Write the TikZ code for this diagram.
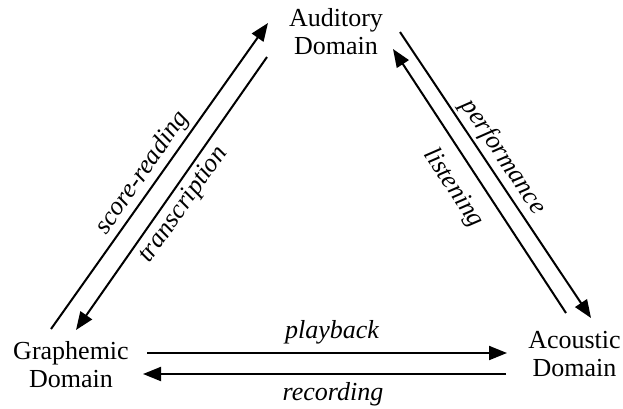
\documentclass[tikz,border=0pt]{standalone}
\usepackage{fontspec}
\setmainfont{Liberation Serif}
\usetikzlibrary{arrows.meta}
\begin{document}
\begin{tikzpicture}[x=1pt,y=-1pt,
  dombox/.style={align=center,inner sep=0pt,anchor=base,font=\fontsize{26}{27.5}\selectfont},
  lbl/.style={inner sep=0pt,font=\fontsize{26}{28}\selectfont\itshape},
  conn/.style={line width=2pt,-{Triangle[length=18pt,width=14pt]}}]
\useasboundingbox (0,0) rectangle (623,408);
\node[dombox] (aud) at (336,54) {Auditory\\Domain};
\node[dombox] (gra) at (71,387) {Graphemic\\Domain};
\node[dombox] (aco) at (574.5,376) {Acoustic\\Domain};
% connector ends
\coordinate (sr1) at (51,329);  \coordinate (sr2) at (268,23);
\coordinate (tr1) at (267,57);  \coordinate (tr2) at (76,330);
\coordinate (pe1) at (400,32);  \coordinate (pe2) at (591,318);
\coordinate (li1) at (566,313); \coordinate (li2) at (393,49);
\coordinate (pb1) at (147,353); \coordinate (pb2) at (507,353);
\coordinate (re1) at (506,374); \coordinate (re2) at (143,374);
\draw[conn] (sr1) -- (sr2);
\draw[conn] (tr1) -- (tr2);
\draw[conn] (pe1) -- (pe2);
\draw[conn] (li1) -- (li2);
\draw[conn] (pb1) -- (pb2);
\draw[conn] (re1) -- (re2);
\node[lbl,rotate=55] (lsr) at (142.5,173) {score-reading};
\node[lbl,rotate=55] (ltr) at (184,205) {transcription};
\node[lbl,rotate=-56.3] (lpe) at (503,157) {performance};
\node[lbl,rotate=-56.5] (lli) at (453,188) {listening};
\node[lbl,anchor=base] (lpb) at (332,338) {playback};
\node[lbl,anchor=base] (lre) at (333,400) {recording};
\end{tikzpicture}
\end{document}
